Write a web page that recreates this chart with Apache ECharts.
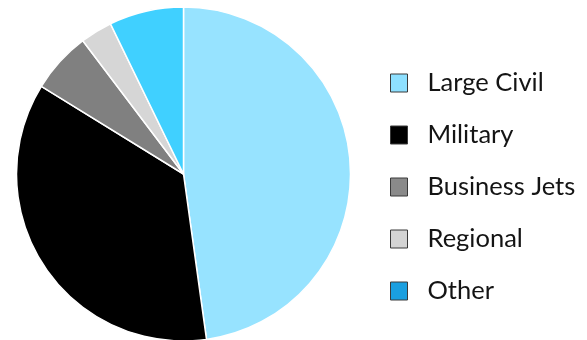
<!DOCTYPE html>
<html>
<head>
<meta charset="utf-8">
<script src="https://cdn.jsdelivr.net/npm/echarts@6/dist/echarts.min.js"></script>
<style>
  html, body { margin: 0; padding: 0; background: #fff; }
  #chart { width: 587px; height: 340px; }
</style>
</head>
<body>
<div id="chart"></div>
<script>
// Market segments and their shares (%)
const segments = ['Large Civil', 'Military', 'Business Jets', 'Regional', 'Other'];
const shares = [47.8, 36.0, 5.9, 3.1, 7.2];
const sliceColors = ['#97e3ff', '#000000', '#808080', '#d6d6d6', '#40d0ff'];
const legendColors = ['#8ee0ff', '#000000', '#8a8a8a', '#d4d4d4', '#1a9fe0'];

const chart = echarts.init(document.getElementById('chart'), null, { renderer: 'canvas' });

chart.setOption({
  animation: false,
  backgroundColor: '#ffffff',
  legend: {
    orient: 'vertical',
    left: 385,
    top: 65,
    itemWidth: 17,
    itemHeight: 18,
    itemGap: 26,
    icon: 'rect',
    selectedMode: false,
    textStyle: {
      fontFamily: 'Lato',
      fontSize: 25.5,
      color: '#141414',
      padding: [0, 0, 0, 15]
    },
    data: segments.map((name, i) => ({
      name: name,
      itemStyle: { color: legendColors[i], borderColor: '#3a3a3a', borderWidth: 1 }
    }))
  },
  series: [{
    type: 'pie',
    center: [183.5, 174],
    radius: 167,
    startAngle: 90,
    clockwise: true,
    label: { show: false },
    labelLine: { show: false },
    emphasis: { disabled: true },
    itemStyle: { borderColor: '#ffffff', borderWidth: 1.5 },
    data: segments.map((name, i) => ({
      name: name,
      value: shares[i],
      itemStyle: { color: sliceColors[i] }
    }))
  }]
});
</script>
</body>
</html>
